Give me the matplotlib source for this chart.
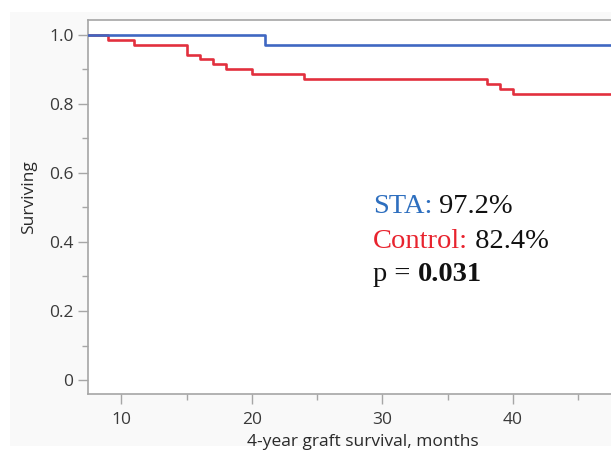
import numpy as np
import matplotlib
matplotlib.use('Agg')
import matplotlib.pyplot as plt
from matplotlib.ticker import MultipleLocator
from matplotlib.patches import Rectangle

# Kaplan-Meier step data (months, surviving fraction)
sta_months = [7.4, 21, 50]
sta_surv = [1.0, 0.972, 0.972]

control_months = [7.4, 9, 11, 15, 16, 17, 18, 20, 24, 38, 39, 40, 50]
control_surv = [1.0, 0.984, 0.970, 0.943, 0.930, 0.916, 0.900, 0.886,
                0.871, 0.858, 0.843, 0.828, 0.828]

y_ticks = [0, 0.2, 0.4, 0.6, 0.8, 1.0]
y_tick_labels = ['0', '0.2', '0.4', '0.6', '0.8', '1.0']
x_ticks = [10, 20, 30, 40]

sta_rate = '97.2%'
control_rate = '82.4%'
p_value = '0.031'

BLUE = '#3f67c2'
RED = '#e2303e'
GRID_GRAY = '#a6a6a6'

plt.rcParams['font.family'] = ['Open Sans', 'DejaVu Sans']

W, H = 611, 453
fig = plt.figure(figsize=(W / 100, H / 100), dpi=100, facecolor='white')

# faint gray panel behind the plot (screenshot frame)
fig.patches.append(Rectangle((10 / W, 1 - 446 / H), 1, (446 - 12) / H,
                             transform=fig.transFigure, facecolor='#f9f9f9',
                             edgecolor='none', zorder=-5))

# the plot runs past the right edge of the screenshot
ax_w = 551
ax = fig.add_axes([87.5 / W, 59.5 / H, ax_w / W, 373.5 / H])
ax.set_facecolor('white')

ax.step(control_months, control_surv, where='post', color=RED, lw=1.9, zorder=2)
ax.step(sta_months, sta_surv, where='post', color=BLUE, lw=1.9, zorder=3)

ax.set_xlim(7.42, 49.6)
ax.set_ylim(-0.039, 1.043)

ax.set_xticks(x_ticks)
ax.xaxis.set_minor_locator(MultipleLocator(5))
ax.set_yticks(y_ticks)
ax.set_yticklabels(y_tick_labels)
ax.yaxis.set_minor_locator(MultipleLocator(0.1))

ax.tick_params(which='major', length=7, width=1, color=GRID_GRAY,
               labelsize=12.5, labelcolor='#3a3a3a')
ax.tick_params(axis='x', which='major', pad=6)
ax.tick_params(axis='y', which='major', pad=3)
ax.tick_params(which='minor', length=4, width=1, color=GRID_GRAY)

for side in ['left', 'top', 'bottom']:
    ax.spines[side].set_color(GRID_GRAY)
    ax.spines[side].set_linewidth(1.2)
ax.spines['right'].set_visible(False)

ax.set_xlabel('4-year graft survival, months', fontsize=12.5, color='#2a2a2a', labelpad=5)
ax.set_ylabel('Surviving', fontsize=12.5, color='#2a2a2a')
ax.yaxis.set_label_coords(-0.092, 0.526)

# result annotation, serif, colored group names
serif = ['Liberation Serif', 'DejaVu Serif']
fs = 20.5
t1 = fig.text(373 / W, 1 - 219 / H, 'STA:', color='#2e6fbf', fontsize=fs,
              family=serif, va='bottom')
ax.annotate(' ' + sta_rate, xy=(1, 0), xycoords=t1, va='bottom', ha='left',
            fontsize=fs, family=serif, color='#111111', annotation_clip=False)

t2 = fig.text(373 / W, 1 - 254 / H, 'Control:', color='#e8232e', fontsize=fs,
              family=serif, va='bottom')
ax.annotate(' ' + control_rate, xy=(1, 0), xycoords=t2, va='bottom', ha='left',
            fontsize=fs, family=serif, color='#111111', annotation_clip=False)

t3 = fig.text(373 / W, 1 - 287 / H, 'p = ', color='#111111', fontsize=fs,
              family=serif, va='bottom')
ax.annotate(p_value, xy=(1, 0), xycoords=t3, va='bottom', ha='left',
            fontsize=fs, family=serif, color='#111111', fontweight='bold',
            annotation_clip=False)

fig.savefig('out.png', dpi=100, facecolor=fig.get_facecolor())
